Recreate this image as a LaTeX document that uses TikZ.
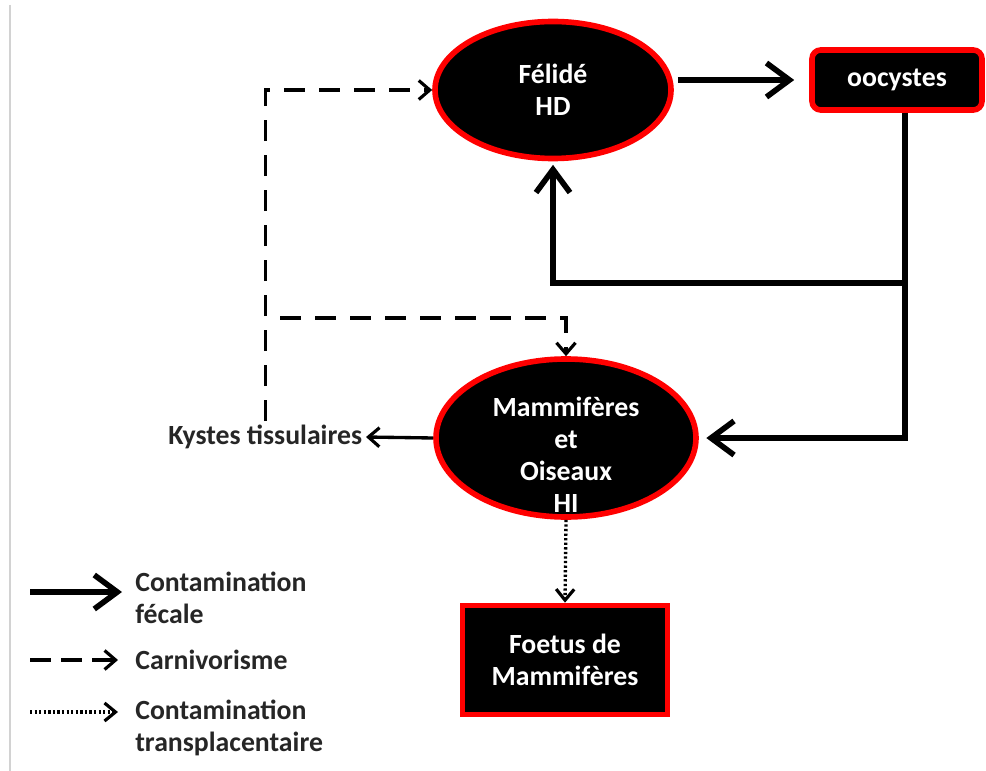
\documentclass[tikz,border=0pt]{standalone}
\usepackage{fontspec}
\setmainfont{Carlito}
\usetikzlibrary{shapes}
\usetikzlibrary{arrows.meta}
\usetikzlibrary{calc}
\tikzset{myEllipse/.style={ellipse, draw=red, line width=3.2pt, fill=black, inner sep=0pt}}
\tikzset{myboxRed/.style={draw=red, line width=3.2pt, fill=black, inner sep=0pt}}
\tikzset{whiteText/.style={text=white, align=center, font=\fontsize{15.8}{18.2}\bfseries\selectfont}}
\tikzset{legendText/.style={text=black!85, align=left, inner sep=0pt, font=\fontsize{15.8}{18.4}\bfseries\selectfont}}
\tikzset{arrFecal/.style={line width=3.4pt, -{Straight Barb[length=4.6mm, width=6.8mm, line width=3.2pt]}}}
\tikzset{arrCarni/.style={line width=2pt, dash pattern=on 0.42cm off 0.28cm, -{Straight Barb[length=2.2mm, width=3.8mm, line width=1.8pt]}}}
\tikzset{arrPlac/.style={line width=1.9pt, dash pattern=on 1.3pt off 1.3pt, -{Straight Barb[length=2.2mm, width=3.6mm, line width=1.8pt]}}}
\tikzset{arrThin/.style={line width=1.9pt, -{Straight Barb[length=2.2mm, width=3.8mm, line width=1.8pt]}}}

\begin{document}
\begin{tikzpicture}

\useasboundingbox (0,0) rectangle (19.72,-15.42);
\draw[gray!35, line width=1.3pt] (0.2,-0.1) -- (0.2,-15.42);

% hosts
\node[myEllipse, minimum width=4.72cm, minimum height=2.74cm, whiteText] (fel) at (11.06,-1.8) {F\'elid\'e\\HD};
\node[myboxRed, rounded corners=5pt, minimum width=3.4cm, minimum height=1.2cm, whiteText] (ooc) at (17.94,-1.6) {oocystes};
\node[myEllipse, minimum width=5.2cm, minimum height=3.16cm] (mam) at (11.32,-8.76) {};
\node[whiteText] (mamTxt) at (11.32,-9.1) {Mammif\`eres\\et\\Oiseaux\\HI};
\node[myboxRed, minimum width=4.1cm, minimum height=2.18cm, whiteText] (foe) at (11.3,-13.2) {Foetus de\\Mammif\`eres};
\node[legendText, inner sep=2pt, anchor=east] (kys) at (7.32,-8.74) {Kystes tissulaires};

% faecal route
\coordinate (jn) at (18.1,-5.66);
\draw[arrFecal, shorten <=0.08cm, shorten >=0.3cm] (fel.east |- ooc.west) -- (ooc.west);
\draw[arrFecal, shorten >=2pt] (ooc.south -| jn) -- (jn) -| (fel.south);
\draw[arrFecal, shorten >=0.15cm] (jn) |- (mam.east);

% carnivorism
\coordinate (brc) at (5.6,-6.36);
\draw[arrCarni] (kys.north) |- (fel.west);
\draw[arrCarni] (brc) -| (mam.north);
\draw[arrThin] (mam.west) -- (kys.east);

% transplacental
\draw[arrPlac] (mam.south) -- (foe.north);

% legend
\coordinate (lg1a) at (0.6,-11.84);
\coordinate (lg1b) at (2.44,-11.84);
\coordinate (lg2a) at (0.6,-13.2);
\coordinate (lg2b) at (2.36,-13.2);
\coordinate (lg3a) at (0.6,-14.24);
\coordinate (lg3b) at (2.36,-14.24);
\draw[arrFecal] (lg1a) -- (lg1b);
\draw[arrCarni, dash pattern=on 0.42cm off 0.2cm] (lg2a) -- (lg2b);
\draw[arrPlac] (lg3a) -- (lg3b);
\node[legendText, anchor=west] (lgt1) at (2.7,-11.96) {Contamination\\f\'ecale};
\node[legendText, anchor=west] (lgt2) at (2.7,-13.2) {Carnivorisme};
\node[legendText, anchor=west] (lgt3) at (2.7,-14.56) {Contamination\\transplacentaire};

\end{tikzpicture}
\end{document}
